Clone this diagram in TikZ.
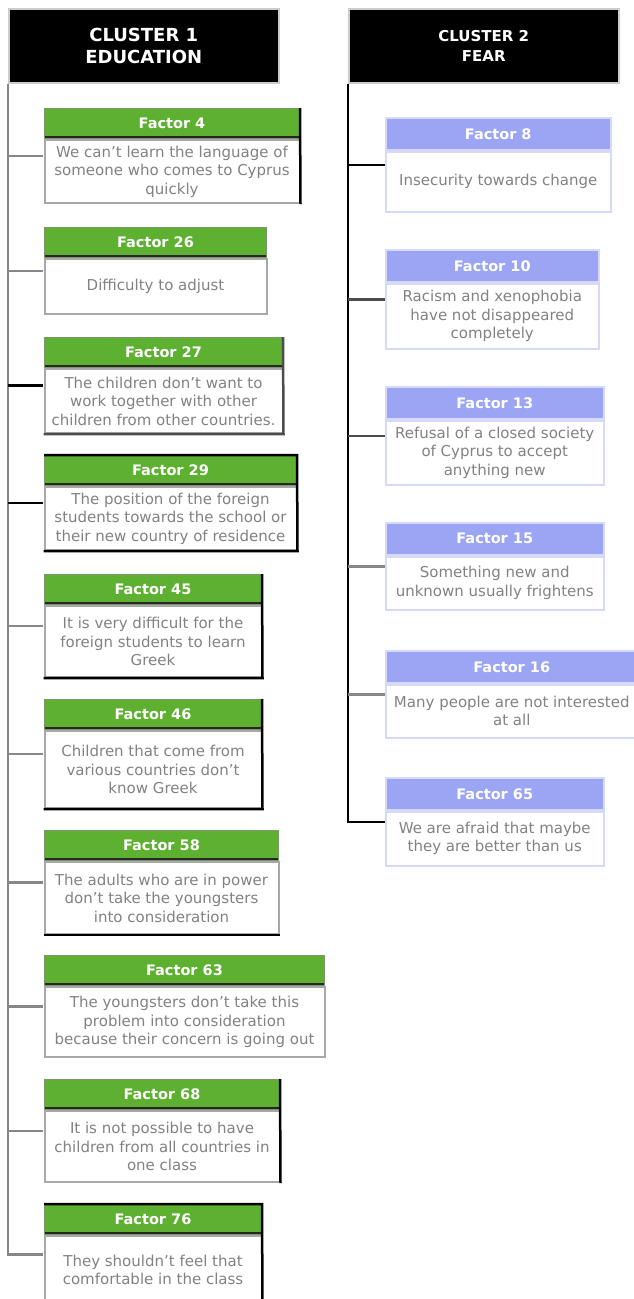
\documentclass[tikz,border=0pt]{standalone}
\usepackage{fontspec}
\setmainfont{DejaVu Sans}
\usetikzlibrary{positioning,fit}
\definecolor{grn}{RGB}{93,176,48}
\definecolor{grnedge}{RGB}{125,150,105}
\definecolor{blu}{RGB}{155,165,243}
\definecolor{bluedge}{RGB}{214,218,248}
\definecolor{boxgray}{RGB}{168,168,168}
\definecolor{txtgray}{RGB}{130,130,130}
\definecolor{linkgray}{RGB}{135,135,135}

\begin{document}
\begin{tikzpicture}[x=1pt,y=-1pt,
    cluster/.style={fill=black, draw=gray!40, line width=1.5pt, text=white, align=center,
      anchor=north west, minimum width=270pt, minimum height=74pt, inner sep=0pt},
    ghead/.style={fill=grn, draw=grnedge, line width=1pt, text=white,
      font=\bfseries\fontsize{14.5}{16}\selectfont, anchor=north west,
      minimum width=#1, minimum height=30pt, inner sep=0pt,
      path picture={\draw[black!85, line width=5pt] (path picture bounding box.south west) -- (path picture bounding box.south east);}},
    bhead/.style={fill=blu, draw=bluedge, line width=1.5pt, text=white,
      font=\bfseries\fontsize{14.5}{16}\selectfont, anchor=north west,
      minimum width=#1, minimum height=32pt, inner sep=0pt},
    gbody/.style 2 args={draw=boxgray, line width=2pt, fill=white, text=txtgray,
      font=\fontsize{15}{18.5}\selectfont, align=center,
      minimum width=#1, minimum height=#2, inner sep=1pt},
    bbody/.style 2 args={gbody={#1}{#2}, draw=bluedge},
    frame/.style={inner sep=0pt},
    trunk/.style={draw=linkgray, line width=2.5pt},
    link/.style={draw=linkgray, line width=2.5pt},
    darkedge/.style={draw=black, line width=2.5pt}
  ]
  \useasboundingbox (0,0) rectangle (634,1299);

  \node[cluster, font=\bfseries\fontsize{18}{22}\selectfont] (c1) at (8,8) {CLUSTER 1\\EDUCATION};
  \node[cluster, font=\bfseries\fontsize{15}{20}\selectfont] (c2) at (348,8) {CLUSTER 2\\FEAR};

  % cluster 1
  \node[ghead=255pt] (h4) at (44,108) {Factor 4};
  \node[gbody={255pt}{63pt}, below=0pt of h4] (f4) {We can't learn the language of\\someone who comes to Cyprus\\quickly};
  \node[frame, fit=(h4)(f4)] (b4) {};

  \node[ghead=222pt] (h26) at (44,227) {Factor 26};
  \node[gbody={222pt}{55pt}, below=0pt of h26] (f26) {Difficulty to adjust};
  \node[frame, fit=(h26)(f26)] (b26) {};

  \node[ghead=238pt] (h27) at (44,337) {Factor 27};
  \node[gbody={238pt}{64pt}, below=0pt of h27] (f27) {The children don't want to\\work together with other\\children from other countries.};
  \node[frame, fit=(h27)(f27)] (b27) {};

  \node[ghead=252pt] (h29) at (44,455) {Factor 29};
  \node[gbody={252pt}{63pt}, below=0pt of h29] (f29) {The position of the foreign\\students towards the school or\\their new country of residence};
  \node[frame, fit=(h29)(f29)] (b29) {};

  \node[ghead=217pt] (h45) at (44,574) {Factor 45};
  \node[gbody={217pt}{71pt}, below=0pt of h45] (f45) {It is very difficult for the\\foreign students to learn\\Greek};
  \node[frame, fit=(h45)(f45)] (b45) {};

  \node[ghead=217pt] (h46) at (44,699) {Factor 46};
  \node[gbody={217pt}{77pt}, below=0pt of h46] (f46) {Children that come from\\various countries don't\\know Greek};
  \node[frame, fit=(h46)(f46)] (b46) {};

  \node[ghead=234pt] (h58) at (44,830) {Factor 58};
  \node[gbody={234pt}{72pt}, below=0pt of h58] (f58) {The adults who are in power\\don't take the youngsters\\into consideration};
  \node[frame, fit=(h58)(f58)] (b58) {};

  \node[ghead=280pt] (h63) at (44,955) {Factor 63};
  \node[gbody={280pt}{70pt}, below=0pt of h63] (f63) {The youngsters don't take this\\problem into consideration\\because their concern is going out};
  \node[frame, fit=(h63)(f63)] (b63) {};

  \node[ghead=235pt] (h68) at (44,1079) {Factor 68};
  \node[gbody={235pt}{71pt}, below=0pt of h68] (f68) {It is not possible to have\\children from all countries in\\one class};
  \node[frame, fit=(h68)(f68)] (b68) {};

  \node[ghead=217pt] (h76) at (44,1204) {Factor 76};
  \node[gbody={217pt}{68pt}, below=0pt of h76] (f76) {They shouldn't feel that\\comfortable in the class};
  \node[frame, fit=(h76)(f76)] (b76) {};

  \draw[darkedge] (h4.north east) -- (f4.south east);
  \draw[darkedge, draw=black!70] (h27.north east) -- (f27.south east) -- (f27.south west);
  \draw[darkedge] (h29.north west) -- (h29.north east) -- (f29.south east) -- (f29.south west);
  \draw[darkedge] (h45.north east) -- (f45.south east) -- (f45.south west);
  \draw[darkedge] (h46.north east) -- (f46.south east) -- (f46.south west);
  \draw[darkedge] (f58.south west) -- (f58.south east);
  \draw[darkedge] (h68.north east) -- (f68.south east);
  \draw[darkedge] (h76.north west) -- (h76.north east) -- (f76.south east);

  \draw[trunk] (c1.south west) |- (b76.west);
  \draw[link] (b4.west) -- (b4.west -| c1.south west);
  \draw[link] (b26.west) -- (b26.west -| c1.south west);
  \draw[link, draw=black] (b27.west) -- (b27.west -| c1.south west);
  \draw[link, draw=black] (b29.west) -- (b29.west -| c1.south west);
  \draw[link] (b45.west) -- (b45.west -| c1.south west);
  \draw[link] (b46.west) -- (b46.west -| c1.south west);
  \draw[link] (b58.west) -- (b58.west -| c1.south west);
  \draw[link] (b63.west) -- (b63.west -| c1.south west);
  \draw[link] (b68.west) -- (b68.west -| c1.south west);

  % cluster 2
  \node[bhead=225pt] (h8) at (385,117) {Factor 8};
  \node[bbody={225pt}{60pt}, below=0pt of h8] (f8) {Insecurity towards change};
  \node[frame, fit=(h8)(f8)] (b8) {};

  \node[bhead=213pt] (h10) at (385,249) {Factor 10};
  \node[bbody={213pt}{65pt}, below=0pt of h10] (f10) {Racism and xenophobia\\have not disappeared\\completely};
  \node[frame, fit=(h10)(f10)] (b10) {};

  \node[bhead=218pt] (h13) at (385,386) {Factor 13};
  \node[bbody={218pt}{64pt}, below=0pt of h13] (f13) {Refusal of a closed society\\of Cyprus to accept\\anything new};
  \node[frame, fit=(h13)(f13)] (b13) {};

  \node[bhead=218pt] (h15) at (385,522) {Factor 15};
  \node[bbody={218pt}{53pt}, below=0pt of h15] (f15) {Something new and\\unknown usually frightens};
  \node[frame, fit=(h15)(f15)] (b15) {};

  \node[bhead=252pt] (h16) at (385,650) {Factor 16};
  \node[bbody={252pt}{53pt}, below=0pt of h16] (f16) {Many people are not interested\\at all};
  \node[frame, fit=(h16)(f16)] (b16) {};

  \node[bhead=218pt] (h65) at (385,777) {Factor 65};
  \node[bbody={218pt}{54pt}, below=0pt of h65] (f65) {We are afraid that maybe\\they are better than us};
  \node[frame, fit=(h65)(f65)] (b65) {};

  \draw[trunk, draw=black] (c2.south west) |- (b65.west);
  \draw[link, draw=black] (b8.west) -- (b8.west -| c2.south west);
  \draw[link, draw=black!70] (b10.west) -- (b10.west -| c2.south west);
  \draw[link, draw=black!70] (b13.west) -- (b13.west -| c2.south west);
  \draw[link] (b15.west) -- (b15.west -| c2.south west);
  \draw[link] (b16.west) -- (b16.west -| c2.south west);
\end{tikzpicture}
\end{document}
